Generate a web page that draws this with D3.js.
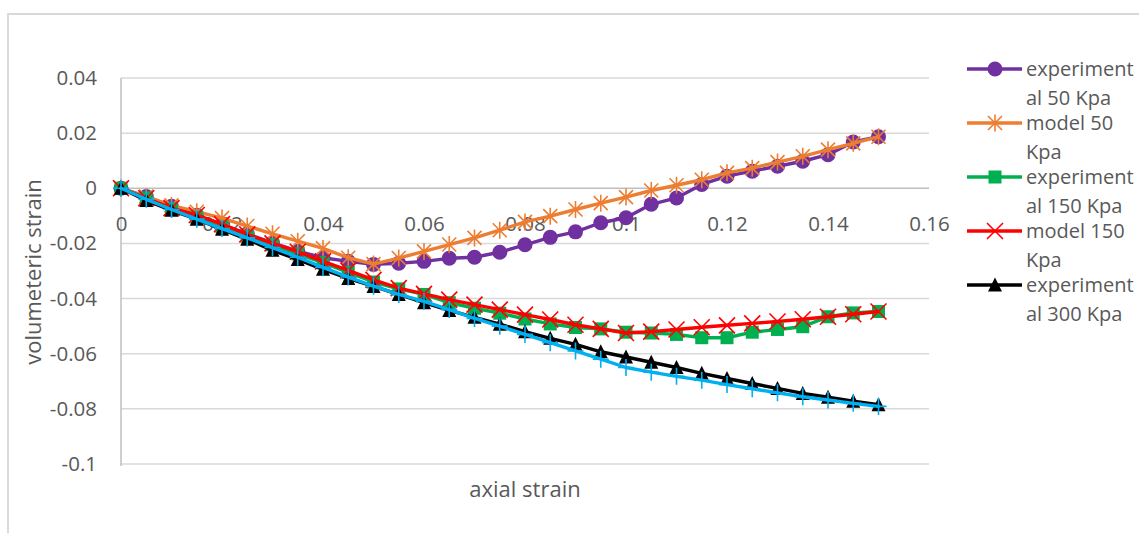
<!DOCTYPE html>
<html>
<head>
<meta charset="utf-8">
<script src="https://cdn.jsdelivr.net/npm/d3@7"></script>
<style>
  html, body { margin: 0; padding: 0; background: #fff; }
  svg { display: block; }
  text { font-family: "Open Sans", "Liberation Sans", sans-serif; fill: #595959; }
</style>
</head>
<body>
<svg id="chart" width="1139" height="533"></svg>
<script>
// Axial strain steps shared by every series
const axialStrain = d3.range(0, 31).map(i => +(i * 0.005).toFixed(3));

const exp50 = [0, -0.003, -0.0065, -0.0098, -0.0132, -0.0165, -0.0198, -0.0228, -0.0252, -0.0265, -0.0276,
  -0.0272, -0.0265, -0.0254, -0.025, -0.0232, -0.0205, -0.0178, -0.0158, -0.0125, -0.0107,
  -0.0058, -0.0035, 0.0014, 0.0044, 0.0062, 0.008, 0.0098, 0.0122, 0.0168, 0.0187];

const model50 = [0, -0.003, -0.0062, -0.0085, -0.0108, -0.0137, -0.0165, -0.0192, -0.0218, -0.0252, -0.0275,
  -0.0253, -0.0229, -0.0204, -0.018, -0.0152, -0.0122, -0.0101, -0.0077, -0.0054, -0.0032,
  -0.0008, 0.0011, 0.0031, 0.0056, 0.0073, 0.0095, 0.0116, 0.014, 0.0163, 0.0187];

const exp150 = [0, -0.0035, -0.0075, -0.0105, -0.014, -0.0175, -0.0205, -0.0238, -0.027, -0.0305, -0.034,
  -0.0365, -0.0385, -0.0415, -0.0435, -0.0453, -0.0474, -0.0492, -0.0505, -0.051, -0.0522,
  -0.0525, -0.053, -0.0542, -0.0542, -0.0522, -0.0512, -0.0502, -0.0466, -0.0452, -0.0447];

const model150 = [0, -0.0036, -0.0072, -0.0097, -0.013, -0.0167, -0.02, -0.023, -0.0265, -0.0298, -0.0332,
  -0.0362, -0.0383, -0.0404, -0.0422, -0.044, -0.0458, -0.0476, -0.0495, -0.051, -0.0525,
  -0.052, -0.0512, -0.0504, -0.0497, -0.049, -0.0483, -0.0475, -0.0466, -0.0457, -0.0447];

const exp300 = [0, -0.0044, -0.008, -0.0112, -0.0149, -0.0185, -0.0225, -0.0258, -0.0294, -0.0327, -0.0356,
  -0.0385, -0.0415, -0.0443, -0.0468, -0.0493, -0.052, -0.0544, -0.0566, -0.0593, -0.0612,
  -0.0631, -0.065, -0.0671, -0.069, -0.0708, -0.0726, -0.0744, -0.0758, -0.0772, -0.0785];

const model300 = [0, -0.004, -0.0077, -0.0112, -0.0146, -0.018, -0.0215, -0.025, -0.0287, -0.0322, -0.0355,
  -0.0385, -0.041, -0.044, -0.0472, -0.05, -0.053, -0.056, -0.059, -0.062, -0.065,
  -0.0667, -0.0682, -0.0696, -0.0712, -0.0727, -0.0742, -0.0756, -0.0768, -0.078, -0.0791];

const xTicks = [0, 0.02, 0.04, 0.06, 0.08, 0.1, 0.12, 0.14, 0.16];
const yTicks = [0.04, 0.02, 0, -0.02, -0.04, -0.06, -0.08, -0.1];

const seriesNames = ["experimental 50 Kpa", "model 50 Kpa", "experimental 150 Kpa",
  "model 150 Kpa", "experimental 300 Kpa", "model 300 Kpa"];
const legendLines = [["experiment", "al 50 Kpa"], ["model 50", "Kpa"], ["experiment", "al 150 Kpa"],
  ["model 150", "Kpa"], ["experiment", "al 300 Kpa"]];

const series = [
  { name: seriesNames[0], values: exp50,    color: "#7030A0", marker: "circle" },
  { name: seriesNames[1], values: model50,  color: "#ED7D31", marker: "star" },
  { name: seriesNames[2], values: exp150,   color: "#00B050", marker: "square" },
  { name: seriesNames[3], values: model150, color: "#FF0000", marker: "x" },
  { name: seriesNames[4], values: exp300,   color: "#000000", marker: "triangle" },
  { name: seriesNames[5], values: model300, color: "#00B0F0", marker: "plus" }
];

const svg = d3.select("#chart");

// chart frame (top and left edges)
svg.append("path")
  .attr("d", "M8,535 L8,14 L1141,14")
  .attr("fill", "none").attr("stroke", "#d9d9d9").attr("stroke-width", 2);

const plot = { left: 121, right: 929, top: 78, bottom: 464 };
const x = d3.scaleLinear().domain([0, 0.16]).range([plot.left, plot.right]);
const y = d3.scaleLinear().domain([-0.1, 0.04]).range([plot.bottom, plot.top]);

// plain-hyphen number labels
const fmt = d => String(+d.toFixed(2));

// horizontal gridlines
svg.append("g")
  .selectAll("line").data(yTicks).join("line")
  .attr("x1", plot.left).attr("x2", plot.right)
  .attr("y1", d => y(d)).attr("y2", d => y(d))
  .attr("stroke", d => d === 0 ? "#bfbfbf" : "#d9d9d9")
  .attr("stroke-width", 1.5);

// vertical axis
const yAxis = d3.axisLeft(y).tickValues(yTicks).tickSize(0).tickPadding(24).tickFormat(fmt);
svg.append("g").attr("transform", `translate(${plot.left},0)`).call(yAxis)
  .call(g => g.select(".domain").attr("stroke", "#bfbfbf").attr("stroke-width", 1.5)
    .attr("d", `M0,${plot.top}V${plot.bottom + 2}`))
  .call(g => g.selectAll("text").attr("font-size", 20.5).attr("fill", "#595959")
    .style("font-family", "'Open Sans', sans-serif"));

// horizontal axis crossing at zero
const xAxis = d3.axisBottom(x).tickValues(xTicks).tickSize(0).tickPadding(28).tickFormat(fmt);
svg.append("g").attr("transform", `translate(0,${y(0)})`).call(xAxis)
  .call(g => g.select(".domain").remove())
  .call(g => g.selectAll("text").attr("font-size", 20.5).attr("fill", "#595959")
    .style("font-family", "'Open Sans', sans-serif"));

// axis titles
svg.append("text").attr("x", (plot.left + plot.right) / 2).attr("y", 497)
  .attr("text-anchor", "middle").attr("font-size", 22).text("axial strain");
svg.append("text").attr("transform", "translate(41,272) rotate(-90)")
  .attr("text-anchor", "middle").attr("font-size", 22).text("volumeteric strain");

// marker drawing
function drawMarker(sel, type, color) {
  if (type === "circle") {
    sel.append("circle").attr("r", 7.5).attr("fill", color);
  } else if (type === "square") {
    sel.append("rect").attr("x", -6.5).attr("y", -6.5).attr("width", 13).attr("height", 13).attr("fill", color);
  } else if (type === "triangle") {
    sel.append("path").attr("d", "M0,-7.5L7,6.5L-7,6.5Z").attr("fill", color);
  } else if (type === "x") {
    sel.append("path").attr("d", "M-8,-8L8,8M-8,8L8,-8").attr("stroke", color).attr("stroke-width", 1.6);
  } else if (type === "star") {
    sel.append("path").attr("d", "M-7,-7L7,7M-7,7L7,-7M0,-8.5V8.5").attr("stroke", color).attr("stroke-width", 1.6);
  } else if (type === "plus") {
    sel.append("path").attr("d", "M0,-8.5V8.5M-8,0H8").attr("stroke", color).attr("stroke-width", 1.6);
  }
}

const line = d3.line().x(d => x(d[0])).y(d => y(d[1]));

const gSeries = svg.append("g");
series.forEach(s => {
  const pts = axialStrain.map((a, i) => [a, s.values[i]]);
  const g = gSeries.append("g").attr("class", "series");
  g.append("path").datum(pts).attr("d", line)
    .attr("fill", "none").attr("stroke", s.color).attr("stroke-width", 3.4)
    .attr("stroke-linejoin", "round").attr("stroke-linecap", "round");
  g.selectAll("g.mk").data(pts).join("g").attr("class", "mk")
    .attr("transform", d => `translate(${x(d[0])},${y(d[1])})`)
    .each(function () { drawMarker(d3.select(this), s.marker, s.color); });
});

// legend (first five series)
const legend = svg.append("g");
legendLines.forEach((lines, i) => {
  const s = series[i];
  const cy = 69 + i * 54;
  const g = legend.append("g");
  g.append("line").attr("x1", 967).attr("x2", 1022).attr("y1", cy).attr("y2", cy)
    .attr("stroke", s.color).attr("stroke-width", 3.4);
  const m = g.append("g").attr("transform", `translate(995,${cy})`);
  drawMarker(m, s.marker, s.color);
  const t = g.append("text").attr("x", 1026).attr("y", cy + 7).attr("font-size", 20);
  lines.forEach((ln, j) => t.append("tspan").attr("x", 1026).attr("dy", j === 0 ? 0 : 29).text(ln));
});
</script>
</body>
</html>
